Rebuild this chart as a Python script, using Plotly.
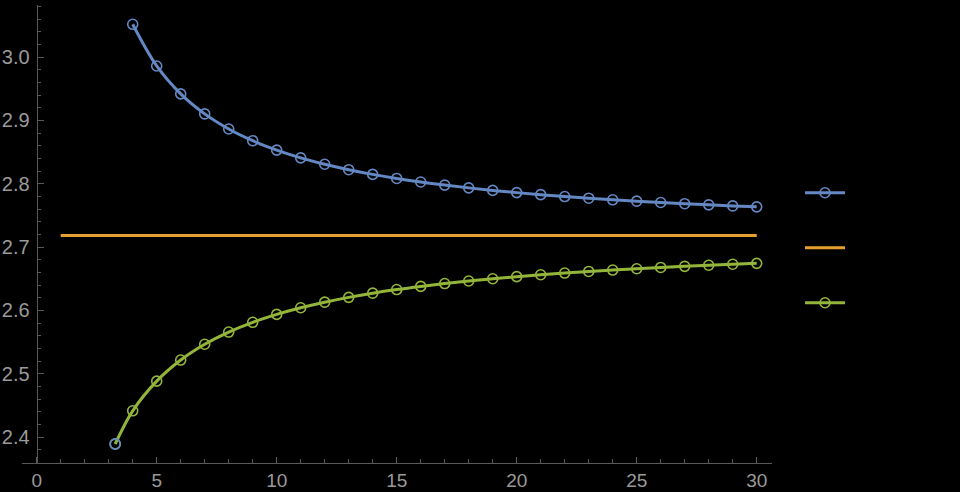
import plotly.graph_objects as go

# Data
n_vals = [4, 5, 6, 7, 8, 9, 10, 11, 12, 13, 14, 15, 16, 17, 18, 19, 20,
          21, 22, 23, 24, 25, 26, 27, 28, 29, 30]
upper_vals = [3.0518, 2.9860, 2.9419, 2.9103, 2.8865, 2.8680, 2.8531, 2.8409,
              2.8308, 2.8222, 2.8148, 2.8084, 2.8028, 2.7979, 2.7935, 2.7895,
              2.7860, 2.7828, 2.7798, 2.7772, 2.7747, 2.7725, 2.7704, 2.7685,
              2.7667, 2.7650, 2.7635]
lower_start_x = [3.27]
lower_start_y = [2.389]
lower_vals = [2.4414, 2.4883, 2.5216, 2.5465, 2.5658, 2.5812, 2.5937, 2.6042,
              2.6130, 2.6206, 2.6272, 2.6329, 2.6379, 2.6424, 2.6464, 2.6500,
              2.6533, 2.6563, 2.6590, 2.6615, 2.6637, 2.6658, 2.6678, 2.6696,
              2.6713, 2.6729, 2.6743]
e_x = [1, 30]
e_y = [2.71828, 2.71828]

x_ticks = [0, 5, 10, 15, 20, 25, 30]
y_ticks = [2.4, 2.5, 2.6, 2.7, 2.8, 2.9, 3.0]

BLUE = "#6388C4"
ORANGE = "#E6A030"
GREEN = "#93B53A"
AXIS = "#585858"
LABEL = "#9a9a9a"

fig = go.Figure()

fig.add_trace(go.Scatter(
    x=n_vals, y=upper_vals, mode="lines+markers", name="",
    line=dict(color=BLUE, width=3, shape="spline"),
    marker=dict(symbol="circle-open", size=10, color=BLUE, line=dict(width=1.6)),
))
fig.add_trace(go.Scatter(
    x=e_x, y=e_y, mode="lines", name="",
    line=dict(color=ORANGE, width=3),
))
fig.add_trace(go.Scatter(
    x=lower_start_x + n_vals, y=lower_start_y + lower_vals, mode="lines+markers", name="",
    line=dict(color=GREEN, width=3, shape="spline"),
    marker=dict(symbol="circle-open", size=10, color=GREEN, line=dict(width=1.6)),
))
fig.add_trace(go.Scatter(
    x=lower_start_x, y=lower_start_y, mode="markers", showlegend=False,
    marker=dict(symbol="circle-open", size=10, color=BLUE, line=dict(width=1.8)),
))

fig.update_layout(
    width=960, height=492,
    margin=dict(l=22, r=188, t=5, b=29, autoexpand=False),
    paper_bgcolor="black", plot_bgcolor="black",
    font=dict(family="Liberation Sans", color=LABEL, size=20),
    showlegend=True,
    legend=dict(x=(800 - 22) / 750, y=0.47, xanchor="left", yanchor="middle",
                bgcolor="rgba(0,0,0,0)", font=dict(size=40, color="black"),
                itemwidth=40),
)

fig.update_xaxes(
    range=[-0.6125, 30.6375], showgrid=False, zeroline=False, automargin=False,
    showline=True, linecolor=AXIS, linewidth=1.2,
    tickmode="array", tickvals=x_ticks, ticktext=[str(v) for v in x_ticks],
    ticks="inside", ticklen=6, tickwidth=1, tickcolor=AXIS,
    minor=dict(dtick=1, ticks="inside", ticklen=3.5, tickcolor=AXIS, showgrid=False),
    tickfont=dict(size=19, color=LABEL), ticklabelstandoff=0,
)
fig.update_yaxes(
    range=[2.3590, 3.0823], showgrid=False, zeroline=False, automargin=False,
    anchor="free", position=(36.7 - 22) / 750,
    showline=True, linecolor=AXIS, linewidth=1.2,
    tickmode="array", tickvals=y_ticks, ticktext=[f"{v:.1f}" for v in y_ticks],
    ticks="inside", ticklen=6, tickwidth=1, tickcolor=AXIS,
    minor=dict(dtick=0.02, tick0=2.4, ticks="inside", ticklen=3.5, tickcolor=AXIS, showgrid=False),
    tickfont=dict(size=20, color=LABEL), ticklabelstandoff=3,
)

fig.write_html(
    "out.html",
    config={"displayModeBar": False},
    post_script="document.body.style.margin='0';document.body.style.padding='0';"
                "document.body.style.background='black';document.body.style.overflow='hidden';",
)
